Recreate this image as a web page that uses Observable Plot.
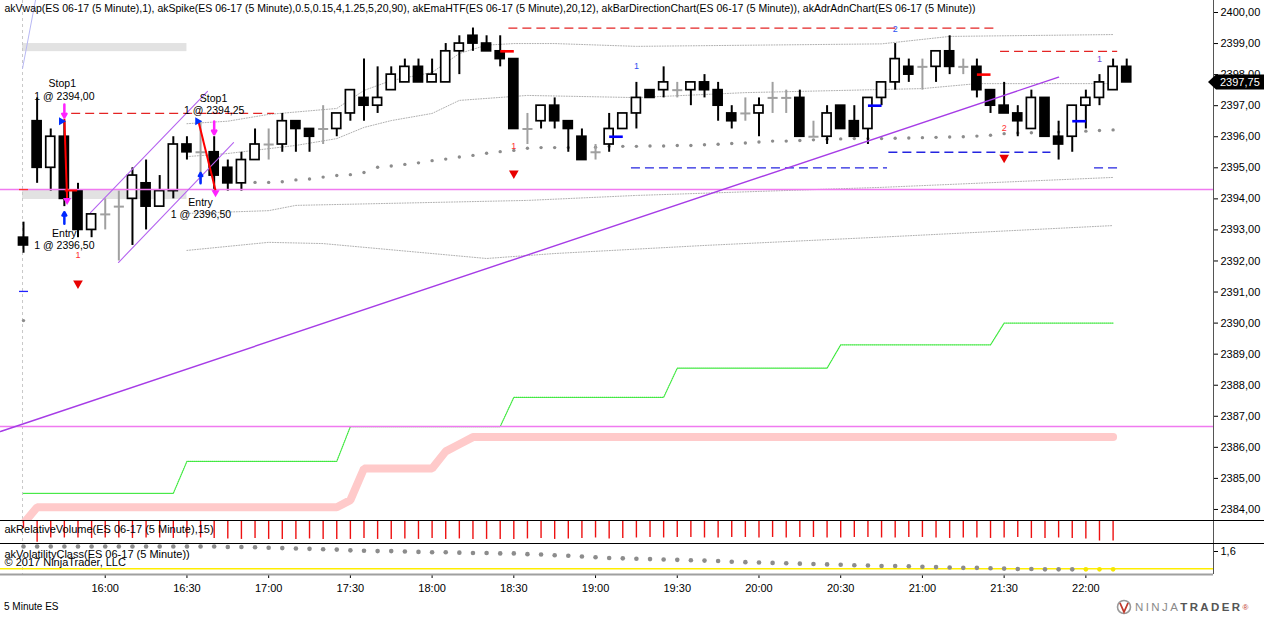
<!DOCTYPE html>
<html><head><meta charset="utf-8">
<script src="https://cdn.jsdelivr.net/npm/d3@7"></script>
<script src="https://cdn.jsdelivr.net/npm/@observablehq/plot@0.6"></script>
<style>
body{margin:0;background:#fff;font-family:"Liberation Sans",Arial,sans-serif;}
#wrap{position:relative;width:1264px;height:617px;overflow:hidden;background:#fff;}
#wrap svg{position:absolute;left:0;}
.sep{position:absolute;left:0;width:1264px;height:1px;background:#000;}
#foot{position:absolute;left:4px;top:601px;font-size:10px;color:#000;}
#logo{position:absolute;left:1116px;top:598px;height:18px;display:flex;align-items:center;font-size:11.5px;letter-spacing:2.4px;white-space:nowrap;}
</style></head><body><div id="wrap"></div>
<script>
// ---------- data ----------
const open  = [2392.75,2396.5,2395,2396,2394.25,2393,2393.5,2393.75,2394,2394.5,2393.75,2394.25,2395.75,2395.5,2395.5,2395,2394.5,2395.25,2395.75,2395.75,2396.5,2396.25,2396.25,2396.25,2396.75,2397.25,2397,2397.5,2397.75,2398.25,2397.75,2397.75,2398.75,2399.25,2399,2398.75,2398.5,2396.25,2396.5,2397,2396.5,2396,2395.5,2395.75,2396.25,2396.75,2397.5,2397.5,2397.5,2397.5,2397.75,2397.5,2396.75,2396.75,2396.75,2397.25,2397.25,2397.25,2396,2396,2397,2396.5,2396.25,2397.25,2397.75,2398.25,2398.25,2398.25,2398.75,2398.25,2398.25,2397.5,2397,2396.75,2396.25,2397.25,2396,2396,2397,2397.25,2397.5,2398.25];
const high  = [2393.25,2397.25,2396.25,2396.5,2394.5,2393.5,2394,2394.25,2395,2395.25,2394.75,2396,2396,2396.5,2396,2395.25,2395.5,2396.25,2396.25,2396.75,2396.5,2396.25,2397,2396.75,2397.5,2398.5,2398.25,2398.25,2398.5,2398.5,2398.5,2399,2399.25,2399.5,2399.25,2399.25,2398.5,2396.75,2397,2397.25,2396.5,2396.25,2395.75,2396.75,2396.75,2397.75,2397.5,2398.25,2397.75,2397.75,2398,2397.75,2397,2397.25,2397.25,2397.75,2397.5,2397.5,2396.5,2397,2397,2397,2397.25,2397.75,2399,2398.5,2398.5,2398.75,2399.25,2398.5,2398.5,2397.5,2397.75,2397,2397.5,2397.25,2396.5,2397,2397.5,2398,2398.5,2398.5];
const low   = [2392.25,2394.5,2394.25,2393.75,2392.75,2392.75,2393,2392,2392.5,2393,2393.75,2394,2395.25,2394.5,2394.25,2394.25,2394.25,2395.25,2395.25,2395.5,2395.5,2395.5,2395.75,2396,2396.5,2396.5,2396.75,2397.5,2397.75,2397.75,2397.75,2397.75,2398,2398.75,2398.75,2398.25,2396.25,2395.75,2396.25,2396.25,2395.5,2395.25,2395.25,2395.5,2396.25,2396.25,2397.25,2397.25,2397.25,2397,2397.25,2396.5,2396.25,2396.5,2396,2396.75,2396.75,2396,2396,2395.75,2396.25,2396,2395.75,2397,2397.5,2397.75,2397.5,2397.75,2398,2398,2397.25,2396.75,2396.75,2396,2396.25,2396,2395.25,2395.5,2396.25,2397,2397.5,2397.75];
const close = [2392.5,2395,2396,2394,2393,2393.5,2393.5,2393.75,2394.75,2393.75,2394.25,2395.75,2395.5,2395.5,2394.75,2394.5,2395.25,2395.75,2395.75,2396.5,2396.25,2396,2396.25,2396.75,2397.5,2397,2397.25,2398,2398.25,2397.75,2398,2398.75,2399,2399,2398.75,2398.5,2396.25,2396.25,2397,2396.5,2396.25,2395.25,2395.5,2396.25,2396.75,2397.25,2397.25,2397.75,2397.5,2397.75,2397.5,2397,2396.5,2396.75,2397,2397.25,2397.25,2396,2396,2396.75,2396.25,2396,2397.25,2397.75,2398.5,2398,2398.25,2398.75,2398.25,2398.25,2397.5,2397,2396.75,2396.5,2397.25,2396,2395.75,2397,2397.25,2397.75,2398.25,2397.75];
const lastPrice = 2397.75;

const timeTicks  = [6,12,18,24,30,36,42,48,54,60,66,72,78];
const timeLabels = ["16:00","16:30","17:00","17:30","18:00","18:30","19:00","19:30","20:00","20:30","21:00","21:30","22:00"];
const priceTicks = d3.range(2384, 2401);

const vwapUpper2 = [[12,2396.42],[15,2396.5],[18,2396.72],[23,2396.91],[25,2397.49],[27,2397.81],[30,2398.07],[32,2398.68],[34,2398.95],[36,2399.0],[39,2399.0],[45,2398.91],[63,2398.99],[68,2399.23],[80,2399.29]];
const vwapUpper1 = [[12,2395.36],[15,2395.46],[20,2395.72],[23,2395.94],[25,2396.30],[27,2396.52],[30,2396.75],[32,2397.17],[37,2397.33],[45,2397.26],[53,2397.42],[66,2397.55],[70,2397.71],[80,2397.71]];
const vwapLower1 = [[12,2393.53],[18,2393.62],[20,2393.79],[37,2393.95],[45,2394.11],[63,2394.37],[80,2394.69]];
const vwapLower2 = [[12,2392.34],[18,2392.6],[22,2392.56],[34,2392.08],[39,2392.24],[50,2392.50],[64,2392.79],[80,2393.14]];
const vwapDotBars = d3.range(17, 81);
const vwapDots = [2394.53,2394.53,2394.55,2394.61,2394.64,2394.70,2394.75,2394.78,2394.85,2395.02,2395.06,2395.11,2395.16,2395.23,2395.28,2395.35,2395.40,2395.47,2395.52,2395.56,2395.63,2395.65,2395.65,2395.65,2395.66,2395.66,2395.69,2395.69,2395.69,2395.70,2395.70,2395.72,2395.72,2395.74,2395.76,2395.78,2395.80,2395.83,2395.86,2395.86,2395.88,2395.90,2395.92,2395.93,2395.94,2395.94,2395.94,2395.95,2395.96,2395.97,2395.98,2395.99,2396.0,2396.02,2396.05,2396.10,2396.12,2396.13,2396.14,2396.15,2396.16,2396.18,2396.2,2396.22];
const firstBarMarks = [["red",2394.3],["blue",2391.02]];
const firstBarDot = 2390.08;

const emaHTFLevels = [[0,2384.52],[12,2385.55],[24,2386.67],[36,2387.61],[48,2388.55],[60,2389.30],[72,2390.0]];
const adrLevels = [[0,2383.55],[1,2384.07],[24,2384.30],[25,2385.32],[31,2385.87],[32,2386.10],[33,2386.33]];
const indicatorLastBar = 80;

const magentaLevels = [2394.3, 2386.67];
const trendLine = [[-1.69,2386.51],[76,2397.92]];
const channelUpper = [[4.92,2393.56],[13.51,2397.46]];
const channelLower = [[6.97,2391.95],[15.42,2395.81]];
const priorVwapLine = [[-0.07,2398.2],[0.88,2400.39]];
const grayZones = [[-0.07,12,2398.74,2399.0],[-0.07,12,2393.98,2394.27]];
const sessionBreak = -0.07;

const redLevels  = [[3.5,18.4,2396.75],[35.6,71.4,2399.5],[71.7,80.3,2398.75]];
const blueLevels = [[44.6,63.4,2395.0],[63.5,75.4,2395.5],[78.6,80.3,2395.0]];
const redMarks  = [[35,2398.75],[70,2398.0]];
const blueMarks = [[43,2396.0],[62,2397.0],[77,2396.5]];

const tradeLines = [[3.0,2396.58,3.2,2394.0],[3.03,2394.27,3.94,2394.27],[12.83,2396.52,14.1,2394.27]];
const entryMarks = [[3,2396.5],[13,2396.5]];
const exitTips = [[3.2,2393.95],[14.1,2394.2]];
const stopArrows = [[3,2397.04,2396.62],[14,2396.49,2396.08]];
const entryArrows = [[3,2393.2,2393.57],[13,2394.5,2394.83]];

const spikeSignals = [[4,2392.2,"1",2391.28],[36,2395.69,"1",2394.82],[72,2396.27,"2",2395.33]];
const directionCounts = [[45,2398.26,"1"],[64,2399.48,"2"],[79,2398.49,"1"]];

const annotations = [
  [2.85,2397.71,"Stop1"],[3.0,2397.30,"1 @ 2394,00"],
  [13.95,2397.22,"Stop1"],[14.0,2396.84,"1 @ 2394,25"],
  [13.0,2393.88,"Entry"],[13.03,2393.50,"1 @ 2396,50"],
  [3.0,2392.88,"Entry"],[3.0,2392.49,"1 @ 2396,50"]
];

const relVol = [0.45,1.30,1.03,1.03,1.03,1.06,1.03,1.03,1.06,1.03,1.03,1.06,1.03,1.03,1.06,1.09,1.12,1.06,1.12,1.12,1.12,1.09,1.12,1.12,1.12,1.06,1.12,1.12,1.09,1.12,1.06,1.12,1.09,1.12,1.12,1.12,1.12,1.09,1.06,1.12,1.09,1.06,1.03,1.09,1.06,1.03,1.0,1.03,1.0,1.0,1.03,1.03,1.0,1.0,1.03,1.0,1.03,1.0,1.0,1.03,1.03,1.0,1.0,1.03,1.03,1.0,1.0,1.03,1.06,1.03,1.03,1.06,1.03,1.0,1.06,1.06,1.03,1.06,1.09,1.22,1.22];
const volatility = [1.73,1.73,1.73,1.73,1.73,1.73,1.73,1.73,1.73,1.73,1.73,1.73,1.73,1.73,1.73,1.72,1.72,1.71,1.70,1.69,1.68,1.67,1.66,1.65,1.63,1.62,1.61,1.61,1.60,1.59,1.58,1.58,1.57,1.56,1.56,1.55,1.55,1.53,1.52,1.50,1.49,1.47,1.45,1.43,1.42,1.41,1.40,1.39,1.38,1.37,1.36,1.35,1.33,1.32,1.31,1.30,1.29,1.28,1.27,1.26,1.25,1.24,1.23,1.22,1.22,1.21,1.20,1.19,1.18,1.17,1.17,1.16,1.15,1.14,1.14,1.13,1.13,1.13,1.13,1.13,1.13];
const volThreshold = 1.145;
const volLowBars = [78,79,80];

const headerText = "akVwap(ES 06-17 (5 Minute),1), akSpike(ES 06-17 (5 Minute),0.5,0.15,4,1.25,5,20,90), akEmaHTF(ES 06-17 (5 Minute),20,12), akBarDirectionChart(ES 06-17 (5 Minute)), akAdrAdnChart(ES 06-17 (5 Minute))";
const relVolText = "akRelativeVolume(ES 06-17 (5 Minute),15)";
const volText = "akVolatilityClass(ES 06-17 (5 Minute))";
const copyText = "© 2017 NinjaTrader, LLC";

// ---------- derived tables ----------
const bars = open.map((o, i) => ({i, o, h: high[i], l: low[i], c: close[i]}));
const bodies = bars.filter(d => d.o !== d.c);
const dojis = bars.filter(d => d.o === d.c);
const stepSeries = levels => d3.range(0, indicatorLastBar + 1).map(i => {
  let v = levels[0][1];
  for (const [b, val] of levels) if (i >= b) v = val;
  return [i, v];
});
const emaHTF = stepSeries(emaHTFLevels);
const adr = stepSeries(adrLevels);
const vwapDotData = vwapDotBars.map((b, k) => [b, vwapDots[k]]);
const relVolData = relVol.map((v, i) => ({i, v}));
const volData = volatility.map((v, i) => ({i, v, low: volLowBars.includes(i)}));

// ---------- layout ----------
const W = 1264, axisX = 1213, barPx = 13.62, firstBarX = 23;
const xDomain = [-firstBarX / barPx, (axisX - firstBarX) / barPx];
const pxPerPt = 31.06, priceH = 520;
const yDomain = [2400 - (priceH - 12) / pxPerPt, 2400 + 12 / pxPerPt];
const fmtPrice = d => d.toFixed(2).replace(".", ",");
const font = "'Liberation Sans', Arial, sans-serif";
const baseStyle = {fontFamily: font, fontSize: "11px", color: "#000", background: "transparent", overflow: "visible"};
const hw = 0.33;
const bandStyle = {stroke: "#b0b0b0", strokeWidth: 1, strokeDasharray: "1,1.6", clip: true};

function lastPriceFlag(index, scales, values, dims) {
  const y = scales.y(lastPrice);
  const x0 = dims.width - dims.marginRight;
  const g = d3.create("svg:g");
  g.append("path")
    .attr("d", `M${x0 - 5},${y} L${x0 + 3},${y - 7.5} L${dims.width},${y - 7.5} L${dims.width},${y + 7.5} L${x0 + 3},${y + 7.5} Z`)
    .attr("fill", "#000");
  g.append("text").attr("x", x0 + 7).attr("y", y).attr("dy", "0.35em")
    .attr("text-anchor", "start")
    .attr("fill", "#fff").attr("font-size", 11).attr("font-family", font)
    .text(fmtPrice(lastPrice));
  return g.node();
}

const price = Plot.plot({
  width: W, height: priceH,
  marginTop: 0, marginBottom: 0, marginLeft: 0, marginRight: W - axisX,
  style: baseStyle,
  x: {domain: xDomain, axis: null},
  y: {domain: yDomain, axis: "right", ticks: priceTicks, tickFormat: fmtPrice, tickSize: 4, tickPadding: 3, label: null},
  marks: [
    Plot.rect(grayZones, {x1: d => d[0], x2: d => d[1], y1: d => d[2], y2: d => d[3], fill: "#e2e2e2"}),
    Plot.ruleX([sessionBreak], {stroke: "#c8c8c8", strokeDasharray: "3,3"}),
    Plot.ruleX([xDomain[1]], {stroke: "#555"}),
    Plot.line(vwapUpper2, {x: d => d[0], y: d => d[1], ...bandStyle}),
    Plot.line(vwapUpper1, {x: d => d[0], y: d => d[1], ...bandStyle}),
    Plot.line(vwapLower1, {x: d => d[0], y: d => d[1], ...bandStyle}),
    Plot.line(vwapLower2, {x: d => d[0], y: d => d[1], ...bandStyle}),
    Plot.dot(vwapDotData, {x: d => d[0], y: d => d[1], r: 1.7, fill: "#8c8c8c", stroke: null}),
    Plot.dot([firstBarDot], {x: 0, y: d => d, r: 1.7, fill: "#8c8c8c", stroke: null}),
    Plot.line(adr, {x: d => d[0], y: d => d[1], stroke: "#ffcaca", strokeWidth: 8, strokeLinejoin: "miter", clip: true}),
    Plot.line(emaHTF, {x: d => d[0], y: d => d[1], stroke: "#3ce83c", strokeWidth: 1.2, strokeDasharray: "1,1", clip: true}),
    Plot.line(priorVwapLine, {x: d => d[0], y: d => d[1], stroke: "#b8b8f4", strokeWidth: 1, clip: true}),
    Plot.link(redLevels, {x1: d => d[0], x2: d => d[1], y1: d => d[2], y2: d => d[2], stroke: "#e42424", strokeWidth: 1.3, strokeDasharray: "9,5"}),
    Plot.link(blueLevels, {x1: d => d[0], x2: d => d[1], y1: d => d[2], y2: d => d[2], stroke: "#2424e0", strokeWidth: 1.3, strokeDasharray: "9,5"}),
    // candles
    Plot.ruleX(bars, {x: "i", y1: "l", y2: "h", stroke: d => d.o === d.c ? "#a0a0a0" : "#000", strokeWidth: 2}),
    Plot.link(dojis, {x1: d => d.i - hw - 0.04, x2: d => d.i + hw + 0.04, y1: "o", y2: "o", stroke: "#a0a0a0", strokeWidth: 2}),
    Plot.rect(bodies, {x1: d => d.i - hw, x2: d => d.i + hw, y1: "o", y2: "c", fill: d => d.c > d.o ? "#fff" : "#000", stroke: "#000", strokeWidth: 1.7}),
    // overlays on top
    Plot.ruleY(magentaLevels, {stroke: "#f07af0", strokeWidth: 1.5}),
    Plot.line(trendLine, {x: d => d[0], y: d => d[1], stroke: "#a63ce6", strokeWidth: 1.4, clip: true}),
    Plot.line(channelUpper, {x: d => d[0], y: d => d[1], stroke: "#b564f0", strokeWidth: 1.1}),
    Plot.line(channelLower, {x: d => d[0], y: d => d[1], stroke: "#b564f0", strokeWidth: 1.1}),
    Plot.link(redMarks, {x1: d => d[0], x2: d => d[0] + 1, y1: d => d[1], y2: d => d[1], stroke: "#ff0000", strokeWidth: 2.6}),
    Plot.link(blueMarks, {x1: d => d[0], x2: d => d[0] + 1, y1: d => d[1], y2: d => d[1], stroke: "#0000ff", strokeWidth: 2.6}),
    Plot.link(firstBarMarks, {x1: -hw, x2: hw, y1: d => d[1], y2: d => d[1], stroke: d => d[0] === "red" ? "#ff3030" : "#2020ff", strokeWidth: 1.3}),
    Plot.link(tradeLines, {x1: d => d[0], y1: d => d[1], x2: d => d[2], y2: d => d[3], stroke: "#ff0000", strokeWidth: 2}),
    Plot.dot(exitTips, {x: d => d[0], y: d => d[1], symbol: "triangle", rotate: 180, r: 3, fill: "#ff22ff", stroke: null}),
    Plot.dot(entryMarks, {x: d => d[0], y: d => d[1], dx: -3, symbol: "triangle", rotate: 90, r: 3, fill: "#0030ff", stroke: null}),
    Plot.arrow(stopArrows, {x: d => d[0], y1: d => d[1], y2: d => d[2], stroke: "#ff22ff", strokeWidth: 2.5, headLength: 5}),
    Plot.arrow(entryArrows, {x: d => d[0], y1: d => d[1], y2: d => d[2], stroke: "#0028ff", strokeWidth: 2.5, headLength: 5}),
    Plot.text(spikeSignals, {x: d => d[0], y: d => d[1], text: d => d[2], fill: "#ff3030", fontSize: 9}),
    Plot.dot(spikeSignals, {x: d => d[0], y: d => d[3], symbol: "triangle", rotate: 180, r: 3.6, fill: "#e80000", stroke: null}),
    Plot.text(directionCounts, {x: d => d[0], y: d => d[1], text: d => d[2], fill: d => d[2] === "1" && d[0] > 70 ? "#6a4ad8" : "#3050f0", fontSize: 9}),
    Plot.text(annotations, {x: d => d[0], y: d => d[1], text: d => d[2], fill: "#000", fontSize: 10.5, textAnchor: "middle"}),
    Plot.text([headerText], {frameAnchor: "top-left", dx: 4, dy: 4, lineAnchor: "top", textAnchor: "start", text: d => d, fontSize: 10.5, fill: "#000"}),
    lastPriceFlag
  ]
});
price.style.top = "0px";

const relH = 23;
const relPx = 16;
const rel = Plot.plot({
  width: W, height: relH,
  marginTop: 0, marginBottom: 0, marginLeft: 0, marginRight: W - axisX,
  style: baseStyle,
  x: {domain: xDomain, axis: null},
  y: {domain: [(relH - 1) / relPx, -1 / relPx], axis: null},
  marks: [
    Plot.ruleX([sessionBreak], {stroke: "#c8c8c8", strokeDasharray: "3,3"}),
    Plot.ruleX([xDomain[1]], {stroke: "#555"}),
    Plot.ruleX(relVolData, {x: "i", y1: 0, y2: "v", stroke: "#ee1111", strokeWidth: 1.4}),
    Plot.text([relVolText], {frameAnchor: "top-left", dx: 4, dy: 9, lineAnchor: "middle", textAnchor: "start", text: d => d, fontSize: 11, fill: "#000"})
  ]
});
rel.style.top = "520px";

const volTop = 543, volPlotH = 31, volPx = 38;
const volDomain = [1.6 - (volPlotH - 8) / volPx, 1.6 + 8 / volPx];
const vol = Plot.plot({
  width: W, height: 617 - volTop,
  marginTop: 0, marginBottom: 617 - volTop - volPlotH, marginLeft: 0, marginRight: W - axisX,
  style: baseStyle,
  x: {domain: xDomain, ticks: timeTicks, tickFormat: d => timeLabels[timeTicks.indexOf(d)], tickSize: 4, tickPadding: 6, label: null},
  y: {domain: volDomain, axis: "right", ticks: [1.6], tickFormat: d => d.toFixed(1).replace(".", ","), tickSize: 4, tickPadding: 3, label: null},
  marks: [
    Plot.ruleX([sessionBreak], {stroke: "#c8c8c8", strokeDasharray: "3,3"}),
    Plot.ruleX([xDomain[1]], {stroke: "#555"}),
    Plot.ruleY([volThreshold], {stroke: "#ffee00", strokeWidth: 1.6}),
    Plot.dot(volData, {x: "i", y: "v", r: 2.3, fill: d => d.low ? "#f4e600" : "#8c8c8c", stroke: null}),
    Plot.text([volText], {frameAnchor: "top-left", dx: 4, dy: 11, lineAnchor: "middle", textAnchor: "start", text: d => d, fontSize: 11, fill: "#000"}),
    Plot.text([copyText], {frameAnchor: "top-left", dx: 4, dy: 18.5, lineAnchor: "middle", textAnchor: "start", text: d => d, fontSize: 11, fill: "#000"}),
    Plot.ruleY([volDomain[0]], {stroke: "#a0a0a0", strokeWidth: 2})
  ]
});
vol.style.top = volTop + "px";

const wrap = document.getElementById("wrap");
wrap.append(price, rel, vol);
for (const y of [520, 543]) {
  const s = document.createElement("div");
  s.className = "sep"; s.style.top = y + "px";
  wrap.append(s);
}
const foot = document.createElement("div");
foot.id = "foot"; foot.textContent = "5 Minute ES";
wrap.append(foot);
const logo = document.createElement("div");
logo.id = "logo";
logo.innerHTML = '<svg width="16" height="16" viewBox="0 0 16 16" style="position:static;margin-right:3px"><circle cx="8" cy="8" r="6.5" fill="none" stroke="#999" stroke-width="1.6"/><path d="M4 4 L8 13 L12 4" fill="none" stroke="#c0392b" stroke-width="1.8"/></svg>'
  + '<span style="color:#8a8a8a">NINJA</span><span style="color:#555;font-weight:bold">TRADER</span><span style="color:#c0392b;font-size:8px;vertical-align:top;letter-spacing:0">®</span>';
wrap.append(logo);
</script></body></html>
